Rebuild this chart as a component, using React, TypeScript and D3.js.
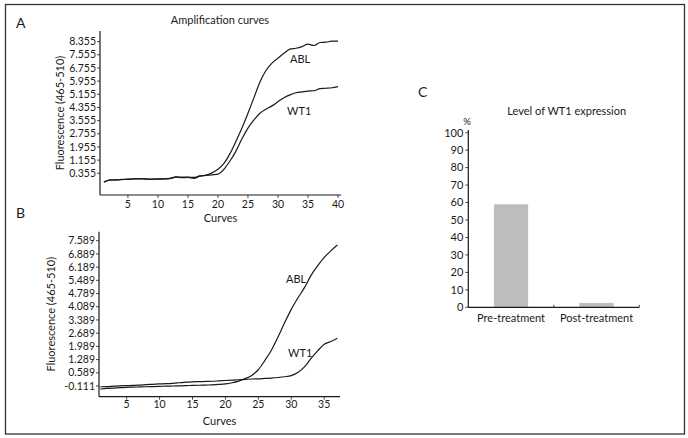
import React from "react";
import * as d3 from "d3";

const cyclesA = d3.range(1, 41);
const ablA = [-0.19, -0.05, -0.04, -0.02, 0.0, 0.01, 0.02, 0.0, 0.0, 0.02, 0.02, 0.04, 0.14, 0.12, 0.12, 0.1, 0.2, 0.24, 0.38, 0.6, 0.95, 1.55, 2.3, 3.1, 4.0, 4.95, 5.9, 6.6, 7.05, 7.35, 7.65, 7.9, 7.95, 8.05, 8.2, 8.12, 8.3, 8.32, 8.38, 8.38];
const wt1A = [-0.17, -0.06, -0.05, -0.03, -0.01, 0.02, 0.03, 0.01, -0.02, 0.0, 0.01, 0.03, 0.12, 0.09, 0.1, 0.05, 0.18, 0.22, 0.26, 0.3, 0.6, 1.1, 1.7, 2.45, 3.1, 3.6, 4.0, 4.25, 4.45, 4.7, 4.95, 5.12, 5.25, 5.3, 5.35, 5.37, 5.5, 5.52, 5.55, 5.62];
const yTicksA = [0.355, 1.155, 1.955, 2.755, 3.555, 4.355, 5.155, 5.955, 6.755, 7.555, 8.355];
const xTicksA = [5, 10, 15, 20, 25, 30, 35, 40];

const cyclesB = d3.range(1, 38);
const ablB = [-0.27, -0.24, -0.22, -0.2, -0.18, -0.17, -0.16, -0.15, -0.14, -0.13, -0.12, -0.11, -0.1, -0.09, -0.08, -0.07, -0.06, -0.05, -0.03, 0.0, 0.06, 0.15, 0.28, 0.45, 0.75, 1.25, 1.8, 2.5, 3.25, 3.95, 4.55, 5.1, 5.75, 6.25, 6.7, 7.05, 7.36];
const wt1B = [-0.15, -0.14, -0.12, -0.1, -0.09, -0.08, -0.06, -0.04, -0.02, 0.0, 0.01, 0.03, 0.06, 0.09, 0.11, 0.12, 0.13, 0.14, 0.16, 0.18, 0.2, 0.22, 0.24, 0.26, 0.27, 0.29, 0.31, 0.34, 0.38, 0.44, 0.6, 0.9, 1.35, 1.75, 2.1, 2.25, 2.42];
const yTicksB = [-0.111, 0.589, 1.289, 1.989, 2.689, 3.389, 4.089, 4.789, 5.489, 6.189, 6.889, 7.589];
const xTicksB = [5, 10, 15, 20, 25, 30, 35];

const categoriesC = ["Pre-treatment", "Post-treatment"];
const valuesC = [59, 2.5];
const yTicksC = [0, 10, 20, 30, 40, 50, 60, 70, 80, 90, 100];

const FONT = "Lato, 'Open Sans', sans-serif";
const INK = "#1a1a1a";

type CurveProps = {
  cycles: number[];
  abl: number[];
  wt1: number[];
  xDomain: [number, number];
  xRange: [number, number];
  yDomain: [number, number];
  yRange: [number, number];
  yTicks: number[];
  xTicks: number[];
  yFmt: (v: number) => string;
  curvesY: number;
  tickLabelY: number;
  ablLabel: [number, number];
  wt1Label: [number, number];
  yLabelX: number;
};

function CurvePanel(p: CurveProps) {
  const x = d3.scaleLinear().domain(p.xDomain).range(p.xRange);
  const y = d3.scaleLinear().domain(p.yDomain).range(p.yRange);
  const line = d3
    .line<number>()
    .x((_, i) => x(p.cycles[i]))
    .y((d) => y(d))
    .curve(d3.curveMonotoneX);
  const [x0, x1] = p.xRange;
  const [yb, yt] = p.yRange;
  const xMid = (x0 + x1) / 2;
  const yMid = (yb + yt) / 2;
  return (
    <g fontFamily={FONT} fill={INK}>
      <line x1={x0} x2={x0} y1={yb} y2={yt} stroke={INK} strokeWidth={1.2} />
      <line x1={x0} x2={x1} y1={yb} y2={yb} stroke={INK} strokeWidth={1.2} />
      {p.yTicks.map((t) => (
        <g key={"y" + t}>
          <line x1={x0 - 3} x2={x0} y1={y(t)} y2={y(t)} stroke={INK} strokeWidth={0.8} />
          <text x={x0 - 4} y={y(t)} dy="0.35em" textAnchor="end" fontSize={10.5}>
            {p.yFmt(t)}
          </text>
        </g>
      ))}
      {p.xTicks.map((t) => (
        <g key={"x" + t}>
          <line x1={x(t)} x2={x(t)} y1={yb} y2={yb + 3} stroke={INK} strokeWidth={0.8} />
          <text x={x(t)} y={p.tickLabelY} textAnchor="middle" fontSize={10.5}>
            {t}
          </text>
        </g>
      ))}
      <path d={line(p.abl) || ""} fill="none" stroke={INK} strokeWidth={1.2} />
      <path d={line(p.wt1) || ""} fill="none" stroke={INK} strokeWidth={1.2} />
      <text x={p.ablLabel[0]} y={p.ablLabel[1]} fontSize={11}>ABL</text>
      <text x={p.wt1Label[0]} y={p.wt1Label[1]} fontSize={11}>WT1</text>
      <text x={xMid} y={p.curvesY} textAnchor="middle" fontSize={11}>Curves</text>
      <text
        transform={`translate(${p.yLabelX},${yMid}) rotate(-90)`}
        textAnchor="middle"
        dy="0.35em"
        fontSize={11}
      >
        Fluorescence (465-510)
      </text>
    </g>
  );
}

function BarPanel() {
  const x = d3.scaleBand<string>().domain(categoriesC).range([468.3, 639.3]).paddingInner(0.6).paddingOuter(0.3);
  const y = d3.scaleLinear().domain([0, 100]).range([307.3, 132.7]);
  const [r0, r1] = x.range();
  const boundaries = [r0 + (r1 - r0) / 2, r1];
  return (
    <g fontFamily={FONT} fill={INK}>
      {categoriesC.map((c, i) => (
        <rect key={c} x={x(c)} y={y(valuesC[i])} width={x.bandwidth()} height={y(0) - y(valuesC[i])} fill="#bdbdbd" />
      ))}
      <line x1={r0} x2={r0} y1={y(0)} y2={130} stroke={INK} strokeWidth={1.2} />
      <line x1={r0} x2={r1} y1={y(0)} y2={y(0)} stroke={INK} strokeWidth={1.2} />
      {boundaries.map((b, i) => (
        <line key={"b" + i} x1={b} x2={b} y1={y(0)} y2={y(0) - 2.5} stroke={INK} strokeWidth={0.8} />
      ))}
      {yTicksC.map((t) => (
        <g key={t}>
          <line x1={r0 - 3} x2={r0} y1={y(t)} y2={y(t)} stroke={INK} strokeWidth={0.8} />
          <text x={r0 - 5} y={y(t)} dy="0.35em" textAnchor="end" fontSize={11}>
            {t}
          </text>
        </g>
      ))}
      {categoriesC.map((c) => (
        <text key={"l" + c} x={(x(c) as number) + x.bandwidth() / 2} y={321.5} textAnchor="middle" fontSize={11}>
          {c}
        </text>
      ))}
      <text x={467} y={125} textAnchor="middle" fontSize={9.5}>%</text>
      <text x={566.7} y={115} textAnchor="middle" fontSize={11}>Level of WT1 expression</text>
      <text x={418} y={96.7} fontSize={14}>C</text>
    </g>
  );
}

export default function App() {
  return (
    <svg
      width={688}
      height={438}
      style={{ position: "absolute", left: 0, top: 0, background: "#fff" }}
    >
      <rect x={0} y={0} width={688} height={438} fill="#fff" />
      <rect x={5.5} y={4.5} width={679} height={429.5} fill="none" stroke="#333" strokeWidth={1.3} />
      <g fontFamily={FONT} fill={INK}>
        <text x={16} y={28} fontSize={14}>A</text>
        <text x={220} y={24} textAnchor="middle" fontSize={11}>Amplification curves</text>
        <text x={16} y={218} fontSize={14}>B</text>
      </g>
      <CurvePanel
        cycles={cyclesA}
        abl={ablA}
        wt1={wt1A}
        xDomain={[0.35, 40.5]}
        xRange={[100, 341]}
        yDomain={[-0.965, 9.0]}
        yRange={[195, 31]}
        yTicks={yTicksA}
        xTicks={xTicksA}
        yFmt={(v) => v.toFixed(3)}
        curvesY={222}
        tickLabelY={207.5}
        ablLabel={[290, 63]}
        wt1Label={[287, 115]}
        yLabelX={60}
      />
      <CurvePanel
        cycles={cyclesB}
        abl={ablB}
        wt1={wt1B}
        xDomain={[0.8, 37.4]}
        xRange={[99, 340]}
        yDomain={[-0.678, 8.066]}
        yRange={[396.7, 231.7]}
        yTicks={yTicksB}
        xTicks={xTicksB}
        yFmt={(v) => v.toFixed(3)}
        curvesY={424.5}
        tickLabelY={407.5}
        ablLabel={[286, 283]}
        wt1Label={[288, 357]}
        yLabelX={51.5}
      />
      <BarPanel />
    </svg>
  );
}
